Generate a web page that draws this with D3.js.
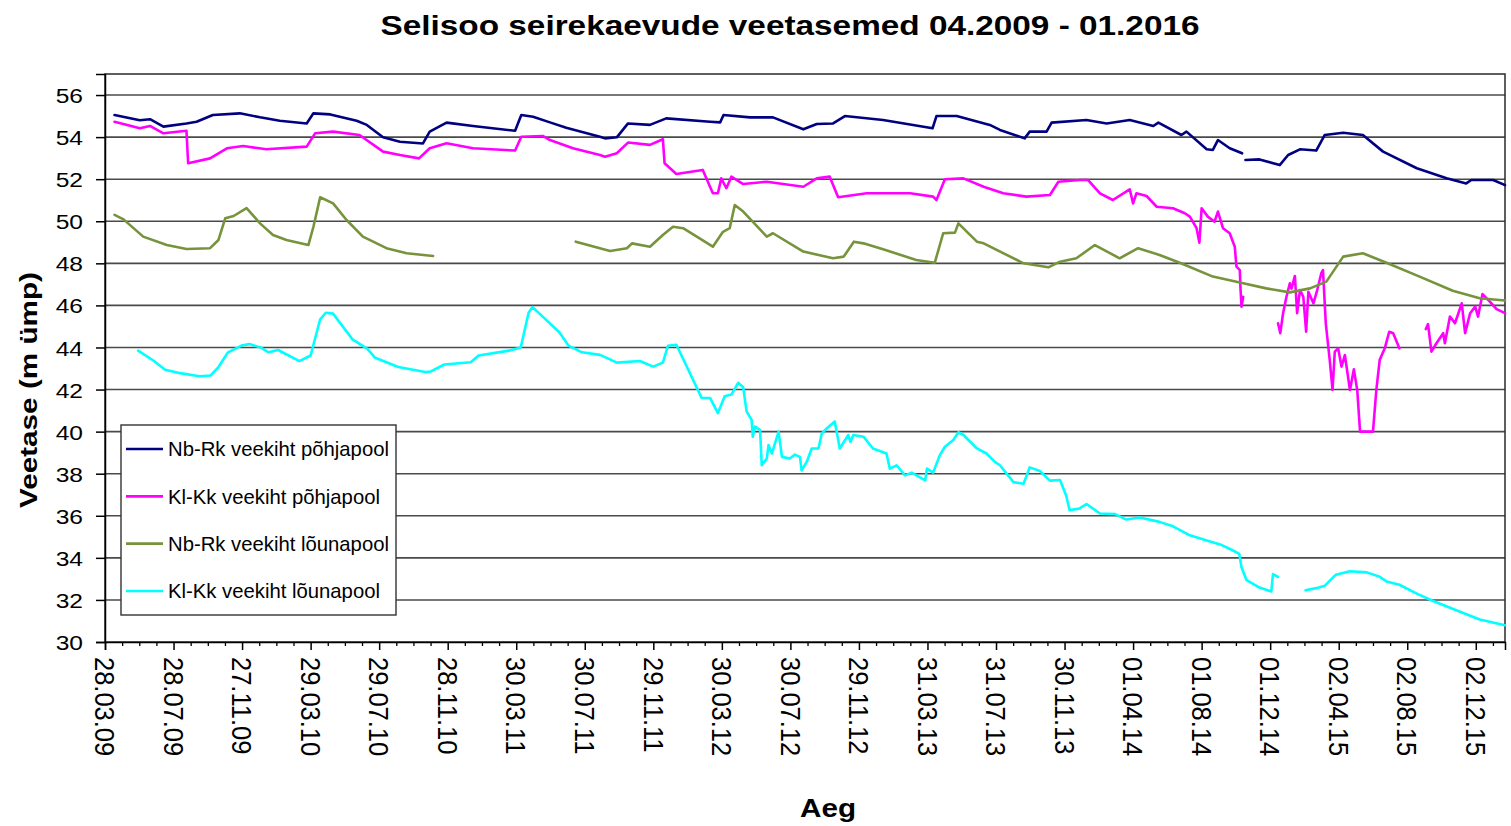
<!DOCTYPE html>
<html>
<head>
<meta charset="utf-8">
<script src="https://cdn.jsdelivr.net/npm/d3@7"></script>
<style>
  html, body { margin: 0; padding: 0; background: #fff; }
  svg { display: block; font-family: "Liberation Sans", Arial, sans-serif; }
</style>
</head>
<body>
<svg id="chart" width="1511" height="826"></svg>
<script>
// ---------------- data ----------------
const chartTitle = "Selisoo seirekaevude veetasemed 04.2009 - 01.2016";
const yTitle = "Veetase (m ümp)";
const xTitle = "Aeg";
const yTicks = [30, 32, 34, 36, 38, 40, 42, 44, 46, 48, 50, 52, 54, 56];
const xTickLabels = ["28.03.09","28.07.09","27.11.09","29.03.10","29.07.10","28.11.10","30.03.11",
  "30.07.11","29.11.11","30.03.12","30.07.12","29.11.12","31.03.13","31.07.13","30.11.13",
  "01.04.14","01.08.14","01.12.14","02.04.15","02.08.15","02.12.15"];
const seriesNames = ["Nb-Rk veekiht põhjapool", "Kl-Kk veekiht põhjapool",
  "Nb-Rk veekiht lõunapool", "Kl-Kk veekiht lõunapool"];

const nbRkPohja = [["2009-04-14",55.05],["2009-05-29",54.8],["2009-06-16",54.85],["2009-07-10",54.5],
  ["2009-08-20",54.65],["2009-09-07",54.73],["2009-10-06",55.05],["2009-11-23",55.13],["2009-12-29",54.94],
  ["2010-02-02",54.78],["2010-03-22",54.65],["2010-04-03",55.13],["2010-05-03",55.08],["2010-06-19",54.78],
  ["2010-07-07",54.58],["2010-08-05",53.99],["2010-09-04",53.78],["2010-10-15",53.7],["2010-10-27",54.26],
  ["2010-11-26",54.69],["2011-01-12",54.53],["2011-03-28",54.3],["2011-04-08",55.05],["2011-04-29",54.97],
  ["2011-05-29",54.7],["2011-06-27",54.45],["2011-08-26",54.02],["2011-09-04",53.94],["2011-09-25",53.99],
  ["2011-10-15",54.65],["2011-11-23",54.58],["2011-12-22",54.89],["2012-03-09",54.73],["2012-03-27",54.7],
  ["2012-04-02",55.05],["2012-05-19",54.94],["2012-06-29",54.94],["2012-08-22",54.37],["2012-09-15",54.62],
  ["2012-10-14",54.65],["2012-11-04",55.0],["2013-01-11",54.81],["2013-04-09",54.42],["2013-04-16",55.0],
  ["2013-05-22",55.0],["2013-07-20",54.58],["2013-08-07",54.34],["2013-09-20",53.94],["2013-09-29",54.26],
  ["2013-10-29",54.26],["2013-11-07",54.69],["2014-01-08",54.81],["2014-02-13",54.65],["2014-03-26",54.81],
  ["2014-05-07",54.53],["2014-05-16",54.69],["2014-06-26",54.1],["2014-07-05",54.26],["2014-08-10",53.42],
  ["2014-08-21",53.39],["2014-08-30",53.86],["2014-09-20",53.47],["2014-10-12",53.23],["2014-10-15",null],
  ["2014-10-18",52.91],["2014-11-12",52.94],["2014-12-18",52.67],["2015-01-02",53.15],["2015-01-23",53.42],
  ["2015-02-21",53.36],["2015-03-08",54.1],["2015-04-10",54.21],["2015-05-15",54.1],["2015-06-20",53.31],
  ["2015-08-19",52.52],["2015-10-11",52.04],["2015-11-15",51.8],["2015-11-24",51.96],["2016-01-02",51.96],
  ["2016-01-23",51.72]];

const klKkPohja = [["2009-04-14",54.73],["2009-05-29",54.42],["2009-06-16",54.53],["2009-07-10",54.18],
  ["2009-08-20",54.3],["2009-08-23",52.76],["2009-10-01",52.99],["2009-10-31",53.47],["2009-11-29",53.58],
  ["2010-01-09",53.42],["2010-03-22",53.55],["2010-04-06",54.18],["2010-05-08",54.26],["2010-06-24",54.1],
  ["2010-08-05",53.31],["2010-09-04",53.15],["2010-10-08",52.99],["2010-10-27",53.47],["2010-11-26",53.71],
  ["2011-01-12",53.47],["2011-03-28",53.36],["2011-04-08",54.02],["2011-05-17",54.05],["2011-05-29",53.86],
  ["2011-07-09",53.47],["2011-08-26",53.15],["2011-09-04",53.07],["2011-09-25",53.23],["2011-10-15",53.74],
  ["2011-11-23",53.63],["2011-12-16",53.9],["2011-12-19",52.76],["2012-01-09",52.25],["2012-02-25",52.44],
  ["2012-03-14",51.33],["2012-03-23",51.33],["2012-03-29",52.04],["2012-04-07",51.57],["2012-04-16",52.12],
  ["2012-05-07",51.77],["2012-06-18",51.88],["2012-08-22",51.64],["2012-09-15",52.04],["2012-10-08",52.12],
  ["2012-10-23",51.14],["2012-12-13",51.33],["2013-02-28",51.33],["2013-04-10",51.17],["2013-04-16",51.01],
  ["2013-05-01",52.0],["2013-06-03",52.04],["2013-07-09",51.64],["2013-08-13",51.33],["2013-09-23",51.17],
  ["2013-11-04",51.25],["2013-11-19",51.88],["2013-12-27",51.96],["2014-01-11",51.96],["2014-02-01",51.33],
  ["2014-02-24",51.01],["2014-03-26",51.52],["2014-04-01",50.85],["2014-04-07",51.33],["2014-04-25",51.2],
  ["2014-05-13",50.69],["2014-06-11",50.62],["2014-07-02",50.38],["2014-07-11",50.22],["2014-07-23",49.67],
  ["2014-07-28",48.98],["2014-08-01",50.62],["2014-08-12",50.22],["2014-08-24",49.98],["2014-08-30",50.46],
  ["2014-09-08",49.67],["2014-09-20",49.43],["2014-09-29",48.79],["2014-10-02",47.84],["2014-10-08",47.68],
  ["2014-10-09",46.89],["2014-10-11",45.94],["2014-10-14",46.41],["2014-11-10",null],
  ["2014-12-15",45.15],["2014-12-19",44.68],["2014-12-24",45.63],["2014-12-30",46.41],["2015-01-05",47.05],
  ["2015-01-08",46.8],["2015-01-14",47.4],["2015-01-18",45.63],["2015-01-23",46.73],["2015-01-29",46.41],
  ["2015-02-03",44.75],["2015-02-07",46.65],["2015-02-16",46.1],["2015-02-22",46.65],["2015-03-02",47.53],
  ["2015-03-05",47.68],["2015-03-10",45.15],["2015-03-17",43.41],["2015-03-22",41.98],["2015-03-26",43.8],
  ["2015-04-01",43.96],["2015-04-07",43.09],["2015-04-13",43.64],["2015-04-22",41.98],["2015-04-29",42.96],
  ["2015-05-05",41.98],["2015-05-10",40.0],["2015-06-02",40.0],["2015-06-08",41.98],["2015-06-14",43.41],
  ["2015-06-23",43.96],["2015-07-01",44.75],["2015-07-08",44.68],["2015-07-19",43.96],["2015-08-20",null],
  ["2015-09-04",44.87],["2015-09-08",45.11],["2015-09-14",43.8],["2015-09-23",44.2],["2015-10-05",44.68],
  ["2015-10-08",44.2],["2015-10-17",45.47],["2015-10-26",45.15],["2015-11-07",46.1],["2015-11-13",44.68],
  ["2015-11-22",45.63],["2015-12-01",45.94],["2015-12-06",45.47],["2015-12-14",46.54],["2015-12-27",46.18],
  ["2016-01-08",45.82],["2016-01-23",45.63]];

const nbRkLouna = [["2009-04-14",50.3],["2009-04-30",50.09],["2009-06-04",49.27],["2009-07-16",48.87],
  ["2009-08-20",48.68],["2009-10-01",48.72],["2009-10-16",49.11],["2009-10-28",50.14],["2009-11-12",50.25],
  ["2009-12-05",50.62],["2009-12-29",49.9],["2010-01-21",49.35],["2010-02-14",49.11],["2010-03-25",48.87],
  ["2010-04-03",49.74],["2010-04-15",51.14],["2010-05-08",50.85],["2010-06-01",50.06],["2010-06-30",49.27],
  ["2010-08-11",48.72],["2010-09-16",48.48],["2010-11-02",48.35],["2011-03-01",null],
  ["2011-07-14",49.03],["2011-09-13",48.59],["2011-10-13",48.72],["2011-10-22",48.95],["2011-11-23",48.79],
  ["2011-12-16",49.35],["2012-01-03",49.74],["2012-01-21",49.67],["2012-03-14",48.79],["2012-04-01",49.5],
  ["2012-04-13",49.67],["2012-04-22",50.77],["2012-05-07",50.46],["2012-06-18",49.27],["2012-06-29",49.43],
  ["2012-08-22",48.56],["2012-10-14",48.24],["2012-11-02",48.32],["2012-11-20",49.03],["2012-12-07",48.95],
  ["2013-01-11",48.67],["2013-03-11",48.16],["2013-04-13",48.03],["2013-04-28",49.43],["2013-05-19",49.46],
  ["2013-05-25",49.9],["2013-06-27",49.03],["2013-07-09",48.95],["2013-09-18",48.0],["2013-11-01",47.81],
  ["2013-11-22",48.08],["2013-12-21",48.24],["2014-01-23",48.87],["2014-03-08",48.24],["2014-04-10",48.72],
  ["2014-05-18",48.4],["2014-06-23",48.03],["2014-08-21",47.37],["2014-10-14",47.05],["2014-11-24",46.81],
  ["2015-01-05",46.62],["2015-02-10",46.81],["2015-03-11",47.13],["2015-04-10",48.32],["2015-05-15",48.48],
  ["2015-06-26",48.03],["2015-08-24",47.37],["2015-10-22",46.7],["2015-12-09",46.34],["2016-01-23",46.23]];

const klKkLouna = [["2009-05-26",43.85],["2009-06-22",43.38],["2009-07-13",42.94],["2009-08-09",42.78],
  ["2009-09-12",42.63],["2009-10-02",42.67],["2009-10-16",43.07],["2009-11-02",43.77],["2009-11-26",44.09],
  ["2009-12-10",44.16],["2009-12-30",44.0],["2010-01-13",43.77],["2010-01-30",43.88],["2010-03-09",43.35],
  ["2010-03-29",43.62],["2010-04-15",45.34],["2010-04-25",45.65],["2010-05-08",45.61],["2010-06-11",44.4],
  ["2010-07-08",43.93],["2010-07-22",43.51],["2010-09-01",43.07],["2010-10-19",42.83],["2010-10-29",42.86],
  ["2010-11-22",43.19],["2011-01-08",43.3],["2011-01-22",43.62],["2011-03-17",43.85],["2011-04-07",44.0],
  ["2011-04-21",45.65],["2011-04-28",45.92],["2011-05-18",45.42],["2011-06-15",44.71],["2011-07-01",44.09],
  ["2011-07-25",43.77],["2011-08-26",43.65],["2011-09-11",43.46],["2011-09-25",43.28],["2011-11-05",43.36],
  ["2011-11-29",43.09],["2011-12-16",43.28],["2011-12-25",44.08],["2012-01-09",44.13],["2012-01-30",42.96],
  ["2012-02-23",41.6],["2012-03-09",41.6],["2012-03-23",40.88],["2012-04-04",41.68],["2012-04-16",41.76],
  ["2012-04-28",42.32],["2012-05-07",42.11],["2012-05-13",40.96],["2012-05-22",40.56],["2012-05-24",39.76],
  ["2012-05-28",40.24],["2012-06-06",40.08],["2012-06-09",38.4],["2012-06-18",38.72],["2012-06-21",39.36],
  ["2012-06-27",38.96],["2012-07-09",40.0],["2012-07-15",38.8],["2012-07-29",38.72],["2012-08-07",38.91],
  ["2012-08-16",38.8],["2012-08-19",38.16],["2012-08-28",38.56],["2012-09-06",39.2],["2012-09-18",39.2],
  ["2012-09-24",39.92],["2012-10-03",40.16],["2012-10-17",40.48],["2012-10-26",39.2],["2012-11-10",39.84],
  ["2012-11-14",39.52],["2012-11-19",39.84],["2012-12-07",39.76],["2012-12-24",39.2],["2013-01-17",38.96],
  ["2013-01-23",38.24],["2013-02-04",38.4],["2013-02-19",37.92],["2013-03-03",38.05],["2013-03-27",37.68],
  ["2013-03-30",38.24],["2013-04-10",38.05],["2013-04-22",38.88],["2013-05-01",39.28],["2013-05-16",39.6],
  ["2013-05-25",39.97],["2013-06-03",39.84],["2013-06-27",39.2],["2013-07-14",38.96],["2013-07-29",38.56],
  ["2013-08-07",38.4],["2013-08-31",37.6],["2013-09-18",37.52],["2013-09-29",38.3],["2013-10-17",38.13],
  ["2013-11-04",37.67],["2013-11-22",37.7],["2013-12-03",36.95],["2013-12-09",36.27],["2013-12-27",36.35],
  ["2014-01-08",36.56],["2014-02-01",36.11],["2014-02-28",36.08],["2014-03-20",35.82],["2014-04-13",35.92],
  ["2014-05-18",35.71],["2014-06-11",35.5],["2014-07-11",35.07],["2014-08-10",34.83],["2014-09-03",34.64],
  ["2014-09-26",34.35],["2014-10-07",34.19],["2014-10-11",33.55],["2014-10-20",32.94],["2014-11-12",32.59],
  ["2014-12-03",32.4],["2014-12-06",33.23],["2014-12-15",33.1],["2015-01-10",null],
  ["2015-02-02",32.46],["2015-02-21",32.56],["2015-03-08",32.67],["2015-03-28",33.2],["2015-04-22",33.36],
  ["2015-05-22",33.31],["2015-06-14",33.1],["2015-06-26",32.88],["2015-07-19",32.72],["2015-08-19",32.3],
  ["2015-09-17",31.95],["2015-11-04",31.44],["2015-12-09",31.07],["2016-01-23",30.8]];

const seriesData = [nbRkPohja, klKkPohja, nbRkLouna, klKkLouna];
const seriesColors = ["#000080", "#FF00FF", "#77933C", "#00FFFF"];
const axisStart = "2009-03-28", axisEnd = "2016-01-23";

// ---------------- drawing ----------------
const svg = d3.select("#chart");
const W = 1511, H = 826;
const plot = { left: 105, top: 74, right: 1505, bottom: 642 };
const parse = d3.utcParse("%Y-%m-%d");
const parseTick = d3.utcParse("%d.%m.%y");

svg.append("rect").attr("width", W).attr("height", H).attr("fill", "#fff");

const x = d3.scaleUtc().domain([parse(axisStart), parse(axisEnd)]).range([plot.left, plot.right]);
const y = d3.scaleLinear().domain([30, 57]).range([plot.bottom, plot.top]);

// gridlines
svg.append("g").selectAll("line").data(yTicks.filter(v => v > 30)).join("line")
  .attr("x1", plot.left).attr("x2", plot.right)
  .attr("y1", d => y(d)).attr("y2", d => y(d))
  .attr("stroke", "#4a4a4a").attr("stroke-width", 1.6);

// frame
svg.append("rect").attr("x", plot.left).attr("y", plot.top)
  .attr("width", plot.right - plot.left).attr("height", plot.bottom - plot.top)
  .attr("fill", "none").attr("stroke", "#2a2a2a").attr("stroke-width", 1.5);

// series
const line = d3.line().defined(d => d[1] !== null)
  .x(d => x(parse(d[0]))).y(d => y(d[1]));
seriesData.forEach((data, i) => {
  svg.append("path").datum(data).attr("d", line)
    .attr("fill", "none").attr("stroke", seriesColors[i]).attr("stroke-width", 2.6)
    .attr("stroke-linejoin", "round").attr("stroke-linecap", "round");
});

// y axis
const yAxis = svg.append("g").attr("transform", `translate(${plot.left},0)`)
  .call(d3.axisLeft(y).tickValues(yTicks).tickSize(9).tickFormat(d3.format("d")));
yAxis.select(".domain").attr("stroke", "#000").attr("stroke-width", 1.5);
yAxis.selectAll(".tick line").attr("stroke", "#000").attr("stroke-width", 1.5);
yAxis.selectAll(".tick text")
  .attr("x", 0).attr("dy", "0.36em")
  .attr("transform", "translate(-22,0) scale(1.17,1)")
  .attr("fill", "#000").style("font-size", "21px").style("text-anchor", "end")
  .style("font-family", '"Liberation Sans", Arial, sans-serif');

// x axis – major ticks with labels
const majorDates = xTickLabels.map(parseTick);
const xAxis = svg.append("g").attr("transform", `translate(0,${plot.bottom})`)
  .call(d3.axisBottom(x).tickValues(majorDates).tickSize(8).tickFormat(d3.utcFormat("%d.%m.%y")));
xAxis.select(".domain").attr("stroke", "#000").attr("stroke-width", 1.5);
xAxis.selectAll(".tick line").attr("stroke", "#000").attr("stroke-width", 1.5);
xAxis.selectAll(".tick text")
  .attr("x", 0).attr("y", 0).attr("dy", "0.36em")
  .attr("transform", "translate(0,15) scale(1.12,1) rotate(90)")
  .attr("fill", "#000").style("font-size", "25.5px").style("text-anchor", "start")
  .style("font-family", '"Liberation Sans", Arial, sans-serif');

// x axis – minor ticks (quarters of the major interval)
const minorDates = [];
const endDate = parse(axisEnd);
majorDates.forEach((d, i) => {
  const next = majorDates[i + 1] || new Date(+d + (+majorDates[1] - +majorDates[0]));
  const step = (+next - +d) / 4;
  for (let j = 1; j < 4; j++) {
    const m = new Date(+d + j * step);
    if (m < endDate) minorDates.push(m);
  }
});
const xMinor = svg.append("g").attr("transform", `translate(0,${plot.bottom})`)
  .call(d3.axisBottom(x).tickValues(minorDates).tickSize(4).tickFormat(""));
xMinor.select(".domain").remove();
xMinor.selectAll(".tick line").attr("stroke", "#000").attr("stroke-width", 1.3);

// titles
svg.append("text").attr("x", 790).attr("y", 35).attr("text-anchor", "middle")
  .attr("textLength", 819).attr("lengthAdjust", "spacingAndGlyphs")
  .style("font-size", "27px").style("font-weight", "bold").text(chartTitle);
svg.append("text").attr("transform", "translate(37,390) rotate(-90)").attr("text-anchor", "middle")
  .attr("textLength", 236).attr("lengthAdjust", "spacingAndGlyphs")
  .style("font-size", "23px").style("font-weight", "bold").text(yTitle);
svg.append("text").attr("x", 828).attr("y", 817).attr("text-anchor", "middle")
  .attr("textLength", 56).attr("lengthAdjust", "spacingAndGlyphs")
  .style("font-size", "26px").style("font-weight", "bold").text(xTitle);

// legend
const lg = svg.append("g");
lg.append("rect").attr("x", 121).attr("y", 425).attr("width", 275).attr("height", 190)
  .attr("fill", "#fff").attr("stroke", "#333").attr("stroke-width", 1.4);
const legendY = d3.scalePoint().domain(seriesNames).range([449, 591]);
seriesNames.forEach((name, i) => {
  const ly = legendY(name);
  lg.append("line").attr("x1", 126).attr("x2", 163).attr("y1", ly).attr("y2", ly)
    .attr("stroke", seriesColors[i]).attr("stroke-width", 2.6);
  lg.append("text").attr("x", 168).attr("y", ly).attr("dy", "0.36em")
    .style("font-size", "20.3px").attr("fill", "#000").text(name);
});
</script>
</body>
</html>
